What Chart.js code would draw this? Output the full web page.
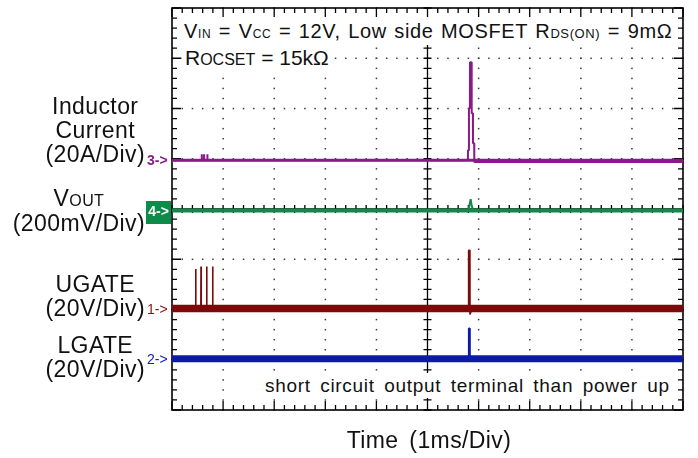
<!DOCTYPE html>
<html>
<head>
<meta charset="utf-8">
<script src="https://cdn.jsdelivr.net/npm/chart.js@4.4.1/dist/chart.umd.min.js"></script>
<style>
  body { margin: 0; background: #fff; }
  #wrap { position: relative; width: 698px; height: 458px; font-family: "Liberation Sans", Arial, sans-serif; color: #111; }
  #scope { position: absolute; left: 0; top: 0; }
  .lab { position: absolute; white-space: nowrap; line-height: 1; }
  .blk { position: absolute; right: 553px; text-align: center; font-size: 23px; white-space: nowrap; letter-spacing: 0.4px; }
  .sm { line-height: 1; }
  .mk { position: absolute; font-size: 14px; line-height: 1; white-space: nowrap; }
  .note { position: absolute; white-space: nowrap; line-height: 1; background: #fff; }
</style>
</head>
<body>
<div id="wrap">
  <canvas id="scope" width="698" height="458"></canvas>

  <div class="blk" style="top:94px; line-height:24px;">
    <div>Inductor</div><div>Current</div><div>(20A/Div)</div>
  </div>
  <div class="blk" style="top:185.5px; line-height:25px;">
    <div>V<span class="sm" style="font-size:16px">OUT</span></div><div>(200mV/Div)</div>
  </div>
  <div class="blk" style="top:271.5px; line-height:24.5px;">
    <div>UGATE</div><div>(20V/Div)</div>
  </div>
  <div class="blk" style="top:333px; line-height:24px;">
    <div>LGATE</div><div>(20V/Div)</div>
  </div>

  <div class="mk" style="left:147px; top:153px; color:#8a1a8a; font-weight:bold;">3-&gt;</div>
  <div class="mk" style="left:146px; top:201px; width:25px; height:23px; line-height:20px; text-align:center; background:#0e8a4a; color:#fff; font-weight:bold;">4-&gt;</div>
  <div class="mk" style="left:147px; top:302px; color:#8b1010;">1-&gt;</div>
  <div class="mk" style="left:147px; top:352px; color:#1020c0;">2-&gt;</div>

  <div class="note" style="left:181px; top:16.5px; padding:4px 2px 4px 3px; font-size:20px; letter-spacing:0.6px; word-spacing:1.5px;">V<span class="sm" style="font-size:12px">IN</span> = V<span class="sm" style="font-size:12px">CC</span> = 12V, Low side MOSFET R<span class="sm" style="font-size:13px">DS(ON)</span> = 9mΩ</div>
  <div class="note" style="left:182px; top:44.5px; padding:2px 3px 5px 3px; font-size:21px;">R<span class="sm" style="font-size:16px">OCSET</span> = 15kΩ</div>
  <div class="note" style="left:262px; top:372.6px; padding:3px 3px 3px 3px; font-size:19px; letter-spacing:0.7px; word-spacing:3.5px;">short circuit output terminal than power up</div>
  <div class="lab" style="left:346.7px; top:428.8px; font-size:23px; letter-spacing:0.4px; word-spacing:4px;">Time (1ms/Div)</div>
</div>

<script>
// time in ms (1 ms/div, trigger at screen centre)
const inductorTime = [-5, -4.423, -4.419, -4.415, -4.378, -4.374, -4.37, -4.313, -4.309, -4.305,
  0.79, 0.793, 0.81, 0.812, 0.83, 0.832, 0.862, 0.865, 0.888, 0.89, 0.914, 0.916, 5];
const inductorAmps = [0, 0, 2.4, 0, 0, 2.4, 0, 0, 2.4, 0,
  0, 4, 4, 20.7, 20.7, 39, 39, 18.7, 18.7, 6.8, 6.8, -0.7, -0.7];

const voutTime = [-5, 0.80, 0.83, 0.845, 0.86, 0.89, 5];
const voutMillivolts = [0, 0, 30, 45, 25, 0, 0];

const ugateTime = [-5, -4.54, -4.536, -4.532, -4.436, -4.432, -4.428, -4.325, -4.321, -4.317,
  -4.208, -4.204, -4.2, 0.803, 0.805, 0.83, 0.832, 0.85, 0.87, 5];
const ugateVolts = [0, 0, 15.7, 0, 0, 16.7, 0, 0, 16.7, 0,
  0, 16.7, 0, 0, 23.2, 23.2, -2.4, -2.4, 0, 0];

const lgateTime = [-5, 0.808, 0.81, 0.826, 0.828, 5];
const lgateVolts = [0, 0, 12, 12, 0, 0];

// scope channel setup: volts(amps)/div, ground marker in divs, trace noise envelope
const channels = [
  { time: inductorTime, values: inductorAmps, perDiv: 20, offset: 0.97, noise: 0.6, color: "#8a1a8a", band: "#8a1a8a", width: 2 },
  { time: voutTime, values: voutMillivolts, perDiv: 200, offset: -0.03, noise: 8, color: "#13884a", band: "#13884a", width: 2 },
  { time: ugateTime, values: ugateVolts, perDiv: 20, offset: -1.98, noise: 1.5, color: "#7d0a0a", band: "#7d0a0a", width: 1.6 },
  { time: lgateTime, values: lgateVolts, perDiv: 20, offset: -2.98, noise: 1.4, color: "#0c1aa5", band: "#0c1aa5", width: 2 },
];

function toScreen(ch, t, v) {
  return { x: t, y: ch.offset + v / ch.perDiv };
}

const datasets = [];
channels.forEach(ch => {
  datasets.push({
    data: [toScreen(ch, -5, ch.noise), toScreen(ch, 5, ch.noise)],
    borderWidth: 0, pointRadius: 0, fill: false, order: 1,
  });
  datasets.push({
    data: [toScreen(ch, -5, -ch.noise), toScreen(ch, 5, -ch.noise)],
    borderWidth: 0, pointRadius: 0, fill: "-1", backgroundColor: ch.band, order: 1,
  });
  datasets.push({
    data: ch.time.map((t, i) => toScreen(ch, t, ch.values[i])),
    borderColor: ch.color, borderWidth: ch.width, borderJoinStyle: "bevel",
    pointRadius: 0, fill: false, order: 0,
  });
});

// oscilloscope graticule: frame, dotted divisions, centre cross with minor ticks
const graticule = {
  id: "graticule",
  beforeDatasetsDraw(chart) {
    const { ctx, chartArea: a, scales: { x, y } } = chart;
    ctx.save();
    ctx.fillStyle = "#3a3a3a";
    for (let i = -4; i <= 4; i++) {
      if (i === 0) continue;
      const px = x.getPixelForValue(i);
      for (let j = -20; j <= 20; j++) {
        const py = y.getPixelForValue(j / 5);
        ctx.fillRect(px - 0.7, py - 0.7, 1.5, 1.5);
      }
    }
    for (let j = -3; j <= 3; j++) {
      if (j === 0) continue;
      const py = y.getPixelForValue(j);
      for (let i = -25; i <= 25; i++) {
        const px = x.getPixelForValue(i / 5);
        ctx.fillRect(px - 0.7, py - 0.7, 1.5, 1.5);
      }
    }

    ctx.strokeStyle = "#000";
    ctx.lineWidth = 1.3;
    const cx = x.getPixelForValue(0);
    const cy = y.getPixelForValue(0);
    ctx.beginPath();
    ctx.moveTo(cx, a.top); ctx.lineTo(cx, a.bottom);
    ctx.moveTo(a.left, cy); ctx.lineTo(a.right, cy);
    // minor ticks on centre cross and frame
    for (let j = -20; j <= 20; j++) {
      const py = y.getPixelForValue(j / 5);
      const len = j % 5 === 0 ? 9 : 5;
      ctx.moveTo(cx - 4, py); ctx.lineTo(cx + 4, py);
      ctx.moveTo(a.left, py); ctx.lineTo(a.left + len, py);
      ctx.moveTo(a.right, py); ctx.lineTo(a.right - len, py);
    }
    for (let i = -25; i <= 25; i++) {
      const px = x.getPixelForValue(i / 5);
      const len = i % 5 === 0 ? 9 : 5;
      ctx.moveTo(px, cy - 4); ctx.lineTo(px, cy + 4);
      ctx.moveTo(px, a.top); ctx.lineTo(px, a.top + len);
      ctx.moveTo(px, a.bottom); ctx.lineTo(px, a.bottom - len);
    }
    ctx.stroke();
    ctx.lineWidth = 1.6;
    ctx.strokeRect(a.left, a.top, a.right - a.left, a.bottom - a.top);
    ctx.restore();
  },
};

new Chart(document.getElementById("scope"), {
  type: "line",
  data: { datasets: datasets },
  options: {
    responsive: false,
    animation: false,
    layout: { padding: { left: 172, right: 15, top: 8, bottom: 48 } },
    plugins: { legend: { display: false }, tooltip: { enabled: false } },
    elements: { line: { tension: 0 } },
    scales: {
      x: { type: "linear", min: -5, max: 5, display: false },
      y: { type: "linear", min: -4, max: 4, display: false },
    },
  },
  plugins: [graticule],
});
</script>
</body>
</html>
